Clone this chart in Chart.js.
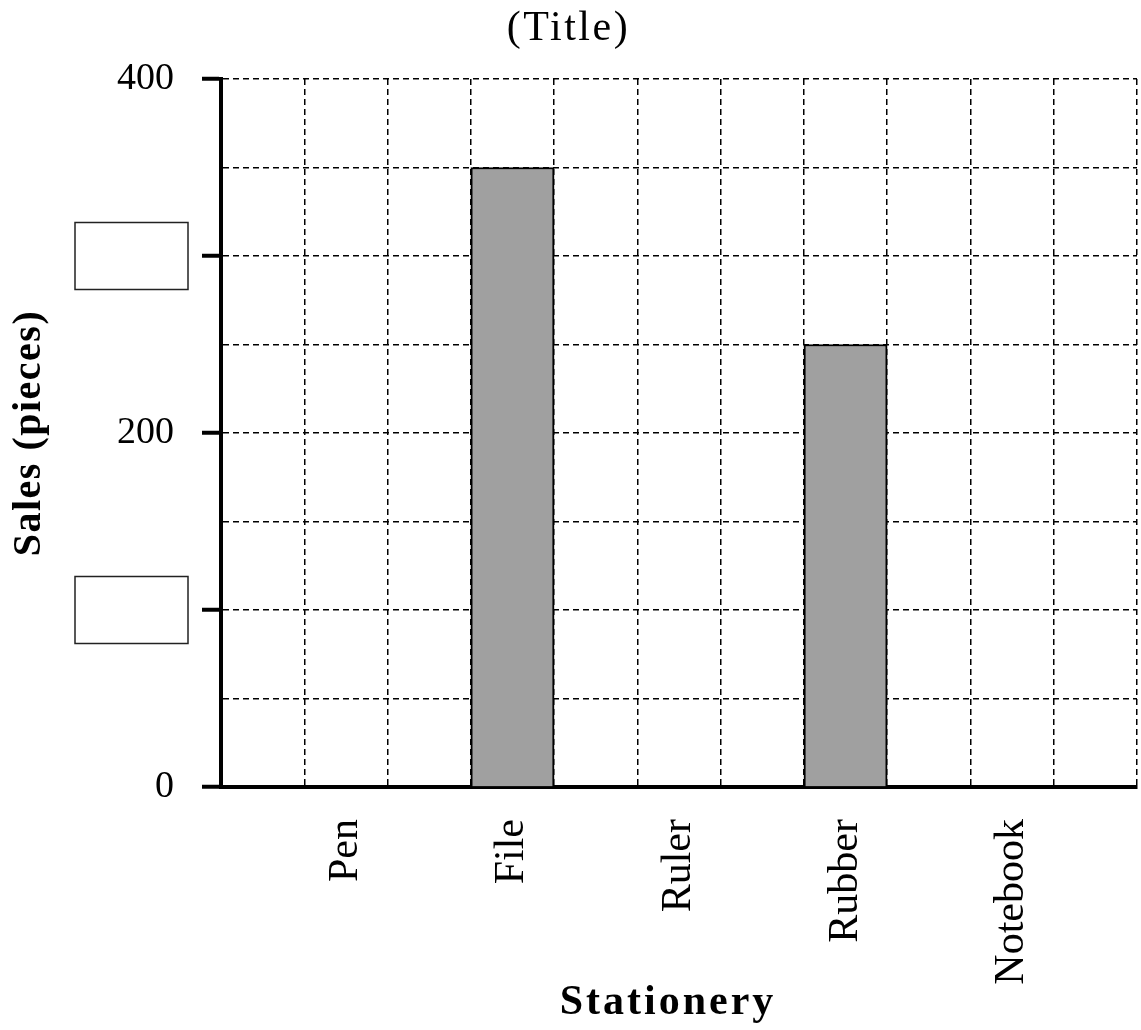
<!DOCTYPE html>
<html>
<head>
<meta charset="utf-8">
<script src="https://cdn.jsdelivr.net/npm/chart.js@4/dist/chart.umd.min.js"></script>
<style>
  html, body { margin: 0; padding: 0; background: #fff; }
  canvas { display: block; }
</style>
</head>
<body>
<canvas id="c" width="1141" height="1030"></canvas>
<script>
// ---- data ----
const categories = ['Pen', 'File', 'Ruler', 'Rubber', 'Notebook'];
const sales = [0, 350, 0, 250, 0];
const yLabelledTicks = [0, 200, 400];
const yBlankTicks = [100, 300];
const chartTitle = '(Title)';
const xTitle = 'Stationery';
const yTitle = 'Sales (pieces)';

// build an 11-slot category table: a blank slot before each category and one at the end
const slotLabels = [];
const slotValues = [];
categories.forEach((c, i) => {
  slotLabels.push(''); slotValues.push(null);
  slotLabels.push(c); slotValues.push(sales[i]);
});
slotLabels.push(''); slotValues.push(null);

const SERIF = '"Liberation Serif", "Times New Roman", serif';

// letter spacing (and a small horizontal nudge) only for the titles
function withSpacing(fn, spacing, dx) {
  return function () {
    const ctx = this.ctx;
    const prev = ctx.letterSpacing;
    ctx.save();
    ctx.translate(dx || 0, 0);
    ctx.letterSpacing = spacing;
    fn.apply(this, arguments);
    ctx.restore();
    ctx.letterSpacing = prev || '0px';
  };
}
const spacingPlugin = {
  id: 'spacing',
  beforeDraw(chart) {
    const sp = { x: ['3px', -11], y: ['1.5px', 0] };
    Object.keys(sp).forEach(k => {
      const s = chart.scales[k];
      if (s && !s._spPatched) {
        s.drawTitle = withSpacing(s.drawTitle, sp[k][0], sp[k][1]);
        s._spPatched = true;
      }
    });
    const tb = chart.titleBlock;
    if (tb && !tb._spPatched) {
      tb.draw = withSpacing(tb.draw, '2.5px', 0);
      tb._spPatched = true;
    }
  }
};

const blankBoxes = {
  id: 'blankBoxes',
  afterDraw(chart) {
    const y = chart.scales.y;
    const ctx = chart.ctx;
    ctx.save();
    ctx.fillStyle = '#fff';
    ctx.strokeStyle = '#222';
    ctx.lineWidth = 1.5;
    yBlankTicks.forEach(v => {
      const py = y.getPixelForValue(v);
      const x0 = y.right - 146, w = 113, h = 67;
      ctx.fillRect(x0, py - h / 2, w, h);
      ctx.strokeRect(x0, py - h / 2, w, h);
    });
    ctx.restore();
  }
};

Chart.defaults.color = '#000';
Chart.defaults.font.family = SERIF;

new Chart(document.getElementById('c'), {
  type: 'bar',
  data: {
    labels: slotLabels,
    datasets: [{
      data: slotValues,
      backgroundColor: '#a0a0a0',
      borderColor: '#000',
      borderWidth: 2,
      barPercentage: 1,
      categoryPercentage: 1
    }]
  },
  options: {
    responsive: false,
    animation: false,
    layout: { padding: { top: 0, left: 0, right: 4, bottom: 0 } },
    plugins: {
      legend: { display: false },
      tooltip: { enabled: false },
      title: {
        display: true,
        text: chartTitle,
        color: '#000',
        font: { family: SERIF, size: 42, weight: 'normal', lineHeight: 1.2 },
        padding: { top: 4, bottom: 24.6 }
      }
    },
    scales: {
      x: {
        type: 'category',
        offset: true,
        grid: {
          offset: true,
          color: '#000',
          lineWidth: 1.5,
          drawTicks: false
        },
        border: { display: true, width: 4, color: '#000', dash: [6, 4] },
        ticks: {
          autoSkip: false,
          minRotation: 90,
          maxRotation: 90,
          padding: 32,
          color: '#000',
          font: { family: SERIF, size: 42 }
        },
        title: {
          display: true,
          text: xTitle,
          color: '#000',
          font: { family: SERIF, size: 42, weight: 'bold', lineHeight: 1.2 },
          padding: { top: 0, bottom: 2 }
        },
        afterFit(s) { s.height = 243; s.paddingLeft = 0; s.paddingRight = 0; }
      },
      y: {
        min: 0,
        max: 400,
        grid: {
          color: '#000',
          lineWidth: 1.5,
          drawTicks: true,
          tickLength: 19,
          tickWidth: 4,
          tickColor: (ctx) => (ctx.tick && ctx.tick.value % 100 === 0) ? '#000' : 'rgba(0,0,0,0)'
        },
        border: { display: true, width: 4, color: '#000', dash: [6, 4] },
        ticks: {
          stepSize: 50,
          padding: 28,
          color: '#000',
          font: { family: SERIF, size: 38 },
          callback: (v) => yLabelledTicks.includes(v) ? String(v) : ''
        },
        title: {
          display: true,
          text: yTitle,
          color: '#000',
          font: { family: SERIF, size: 40, weight: 'bold', lineHeight: 1.2 },
          padding: { top: 5.4, bottom: 0 }
        },
        afterFit(s) { s.width = 221; }
      }
    }
  },
  plugins: [spacingPlugin, blankBoxes]
});
</script>
</body>
</html>
